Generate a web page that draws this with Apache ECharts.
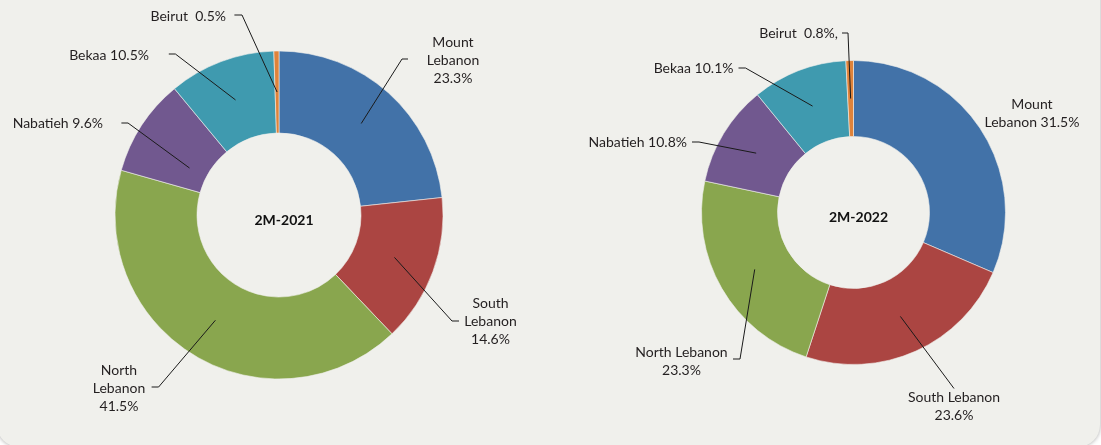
<!DOCTYPE html>
<html>
<head>
<meta charset="utf-8">
<script src="https://cdn.jsdelivr.net/npm/echarts@6/dist/echarts.min.js"></script>
<style>
  html, body { margin: 0; padding: 0; background: #ffffff; overflow: hidden; }
  .card {
    position: absolute; left: -3px; top: -30px; width: 1103px; height: 477px;
    background: #f0f0ec; border-radius: 22px;
    box-shadow: 0 0 4px rgba(0, 0, 0, 0.35);
  }
  .echarts_1 { position: absolute; left: 0; top: 0; width: 1101px; height: 445px; }
</style>
</head>
<body>
<div class="card"></div>
<div class="echarts_1"></div>
<script>
// data
var regions = ['Mount Lebanon', 'South Lebanon', 'North Lebanon', 'Nabatieh', 'Bekaa', 'Beirut'];
var share2021 = [23.3, 14.6, 41.5, 9.6, 10.5, 0.5];
var share2022 = [31.5, 23.6, 23.3, 10.8, 10.1, 0.8];
var chartTitles = ['2M-2021', '2M-2022'];
// label text templates ({v} = value)
var labelText2021 = ['Mount\nLebanon\n{v}%', 'South\nLebanon\n{v}%', 'North\nLebanon\n{v}%', 'Nabatieh {v}%', 'Bekaa {v}%', 'Beirut  {v}%'];
var labelText2022 = ['Mount\nLebanon {v}%', 'South Lebanon\n{v}%', 'North Lebanon\n{v}%', 'Nabatieh {v}%', 'Bekaa {v}%', 'Beirut  {v}%,'];

var colors = ['#4272a8', '#ab4542', '#89a64e', '#71588f', '#3f9aaf', '#e0833a'];

// pie geometry
var pies = [
  { center: [279, 215], radius: [82, 164] },
  { center: [853.5, 212.5], radius: [76, 152] }
];

// label placement relative to pie centre: text anchor, align, elbow, end of short segment
// (s = optional start point override for the leader line)
var labelPlace = [
  [
    { t: [174, -155], a: 'center', e: [123, -156], h: [129, -156] },
    { t: [211.5, 106], a: 'center', e: [173, 106], h: [180, 106] },
    { t: [-160, 173], a: 'center', e: [-120.4, 172], h: [-127.4, 172] },
    { t: [-176, -91.5], a: 'right', e: [-151, -92], h: [-157.6, -92], s: [-89.5, -47] },
    { t: [-130, -160], a: 'right', e: [-103.6, -161], h: [-110.2, -161] },
    { t: [-53, -199], a: 'right', e: [-37, -200], h: [-44.6, -200] }
  ],
  [
    { t: [178.5, -99.5], a: 'center', e: null, h: null },
    { t: [100.5, 193.5], a: 'center', e: [100.5, 176], h: [100.5, 176] },
    { t: [-172, 148.5], a: 'center', e: [-113.5, 146.5], h: [-120.5, 146.5] },
    { t: [-166.5, -70.5], a: 'right', e: [-154.5, -70.5], h: [-161.5, -70.5] },
    { t: [-120, -144.5], a: 'right', e: [-108, -144.5], h: [-115, -144.5] },
    { t: [-15.5, -179.5], a: 'right', e: [-5.5, -179.5], h: [-11.5, -179.5] }
  ]
];

var myChart1 = echarts.init(document.querySelector('.echarts_1'));

function buildData(values, texts, hideLineIdx) {
  return values.map(function (v, i) {
    var item = { name: regions[i], value: v, labelText: texts[i] };
    if (hideLineIdx.indexOf(i) >= 0) item.labelLine = { show: false };
    return item;
  });
}

var datasets = [
  buildData(share2021, labelText2021, []),
  buildData(share2022, labelText2022, [0])
];

var series = [];
var titles = [];
pies.forEach(function (p, k) {
  // visible donut
  series.push({
    type: 'pie',
    z: 2,
    center: p.center,
    radius: p.radius,
    startAngle: 90,
    clockwise: true,
    silent: true,
    label: { show: false },
    labelLine: { show: false },
    itemStyle: { borderColor: '#f0f0ec', borderWidth: 0.6 },
    data: datasets[k].map(function (d) { return { name: d.name, value: d.value }; })
  });
  // transparent overlay whose rim sits mid-ring, used only for labels and leader lines
  var mid = (p.radius[0] + p.radius[1]) / 2;
  series.push({
    type: 'pie',
    z: 6,
    center: p.center,
    radius: [0, mid],
    startAngle: 90,
    clockwise: true,
    silent: true,
    avoidLabelOverlap: false,
    itemStyle: { color: 'rgba(0,0,0,0)' },
    label: {
      show: true,
      position: 'outside',
      color: '#231f20',
      fontFamily: 'Lato',
      fontSize: 14,
      lineHeight: 18,
      formatter: function (prm) {
        return prm.data.labelText.replace('{v}', prm.value.toFixed(1));
      }
    },
    labelLine: {
      show: true,
      showAbove: true,
      length: 10,
      length2: 6,
      lineStyle: { color: '#1a1a1a', width: 1 }
    },
    labelLayout: (function (kk) {
      return function (params) {
        var c = pies[kk].center;
        var lp = labelPlace[kk][params.dataIndex];
        var res = {
          x: c[0] + lp.t[0],
          y: c[1] + lp.t[1],
          align: lp.a,
          verticalAlign: 'middle'
        };
        if (lp.e && params.labelLinePoints) {
          var s = lp.s ? [c[0] + lp.s[0], c[1] + lp.s[1]] : params.labelLinePoints[0];
          res.labelLinePoints = [
            [s[0], s[1]],
            [c[0] + lp.e[0], c[1] + lp.e[1]],
            [c[0] + lp.h[0], c[1] + lp.h[1]]
          ];
        }
        return res;
      };
    })(k),
    data: datasets[k]
  });
  titles.push({
    text: chartTitles[k],
    left: p.center[0],
    top: p.center[1],
    textAlign: 'center',
    textVerticalAlign: 'middle',
    textStyle: { fontFamily: 'Lato', fontSize: 14, fontWeight: 'bold', color: '#111111' }
  });
});

var option1 = {
  backgroundColor: 'transparent',
  color: colors,
  animation: false,
  title: titles,
  series: series
};

myChart1.setOption(option1);
</script>
</body>
</html>
